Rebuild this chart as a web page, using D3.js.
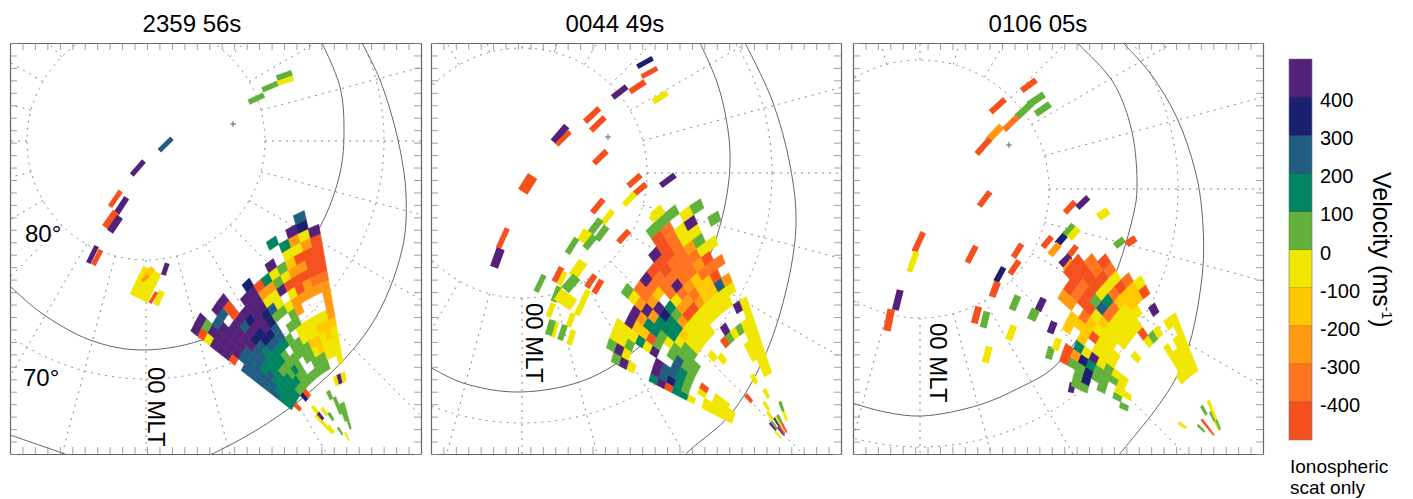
<!DOCTYPE html>
<html><head><meta charset="utf-8">
<script src="https://cdn.jsdelivr.net/npm/d3@7"></script>
<style>html,body{margin:0;background:#fff}svg{display:block}text{font-family:"Liberation Sans",Arial,sans-serif;fill:#000}</style>
</head><body><svg id="c" width="1413" height="499"></svg>
<script>
// velocity bins, top of colour bar to bottom
const binCodes = ["p","n","b","t","g","y","m","a","o","r"];
const binValues = [450,350,250,150,50,-50,-150,-250,-350,-450];
const binColors = ["#542178","#1a1f70","#1f5e80","#008560","#62b13a","#f0e600","#ffc800","#ff9a12","#ff7420","#f4511e"];
const binEdges = [-400,-300,-200,-100,0,100,200,300,400];
const colorTicks = [400,300,200,100,0,-100,-200,-300,-400];
const titles = ["2359 56s","0044 49s","0106 05s"];
const latLabels = ["80°","70°"];
const lats = [80,70];
const mltHours = d3.range(0,24);

// [beam, first gate, velocity-bin per gate]
const fan1 = [
[0,8,"ttbbbbbb.rpppyrp"],[1,7,"r"],[1,8,"tttbbbbbbpppppgp"],[2,8,"ttttbtbbbppppb"],
[3,2,"yyy"],[3,8,"ttttttbbpppp.bp"],[4,2,"y"],[4,4,"p"],[4,5,"y"],[4,7,"n"],[4,8,"gttgtttbnpbprrp"],
[5,7,"r"],[5,8,"gtggttbnnpnp"],[6,4,"y"],[6,8,"ggtggtbnppppp"],[7,1,"g"],[7,3,"g"],[7,8,"gggg.tbbnnpppn"],
[8,8,"g..ggg..gbyar"],[9,0,"y"],[9,8,"g.ggg.g.gyyat"],[10,5,"g"],[10,8,"ggggyyggy.pgyp"],
[11,3,"g"],[11,4,"g"],[11,8,"ggymyy.aayryg"],[11,23,"t"],[12,2,"gg"],[12,8,"ggmmyy..arramyt"],
[13,1,"ggg"],[13,6,"y"],[13,8,".yyymy..aararyap"],[14,6,"p"],[14,8,".yymmy..aorrraynb"],[15,6,"y"],[15,8,"yyyymaaaaorrrrp"]
];
const fan2 = [
[0,6,"yyyy.yttrpt"],[0,19,"ypg"],[1,6,"yyyy"],[1,12,"gtnbp"],[1,20,"ypg"],[2,6,"yyy.y.gtbbp"],[2,20,"gyy"],
[3,7,"yy.r.gtb"],[3,17,"pytyyy"],[4,12,"ggbg"],[4,17,"grmmp"],[5,12,"gggg"],[5,16,"ygttap"],
[6,13,"ggytttapayg"],[7,0,"y"],[7,13,"yymttnpaoo"],[8,1,"p"],[8,5,"r"],[8,11,"y"],[8,13,"yyyagt.mop"],
[9,1,"g"],[9,10,"y"],[9,13,"yyyrayooor"],[10,0,"p"],[10,2,"y"],[10,13,"yyyraoporrp"],
[11,0,"rp"],[11,3,"y"],[11,11,"r"],[11,14,"yyaoaooorrrg"],[12,1,"y"],[12,6,"y"],[12,11,"gp"],[12,14,"yymmmoooooog"],[12,26,"y"],
[13,0,"rg"],[13,4,"y"],[13,11,"y"],[13,14,"yymmoaoayy"],[13,25,"g"],[14,8,"yy.g"],[14,14,"yybrorygypy"],
[15,6,"yyyyyy"],[15,13,"p"],[15,15,"ya"],[15,18,"o"],[15,20,"y"],[15,24,"g"],[16,1,"yg"],[16,6,"yyyyyyy"],[16,13,"y"],[16,22,"g"]
];
const fan3 = [
[1,10,"g"],[1,15,"gg"],[2,11,"g"],[2,13,"g"],[2,15,"ng"],[3,10,"yy.ggnggr"],[4,3,"y"],[4,11,"ygggtnar"],
[5,11,"yygypyt"],[6,13,"yyy.m.m"],[7,13,"yyyrmmm"],[8,1,"g"],[8,14,"yyymo.aa"],[9,11,"y"],[9,13,"yyymyrror"],
[10,13,"yyyobgrorr"],[11,0,"rr"],[11,13,"yyyotyrrrr"],[12,11,"yryyymoyroo"],[13,6,"y"],[13,11,"g"],[13,14,"ymmryor"],
[14,2,"g"],[14,6,"yyyy"],[14,11,"y"],[14,15,"mmo"],[15,6,"yyy"],[15,13,"p"],[15,15,"ry"],[16,0,"yg"],[16,6,"yyyy.y"],[17,0,"gyy"],[17,6,"yyyyyy"]
];
// other radars: [x1,y1,x2,y2,width,bin]
const streaks1 = [
[248.7,102.3,264,95,5.5,"g"],[262.3,90,277.7,83.3,5.5,"g"],[276.7,78.3,292,72.7,6,"g"],[277.7,83.3,293.3,78.3,5,"y"],
[159.3,150.7,172,138.3,5,"b"],[131.7,175,144,161,5,"p"],[110,206.7,120.7,191,5,"r"],[116.7,213,126.7,197.7,6,"p"],
[105.3,227.4,116.3,212,8,"r"],[110,231.7,120,216.7,7,"p"],[88.3,263,96.7,246,5,"p"],[93.3,265,101,250,5,"r"],
[138.7,298.3,152.3,270,20,"y"],[146,276,153,268,6,"m"],[142,281,148,276,4,"a"],[156,305,162,291,6,"y"],[150,303,156.7,292,3.5,"r"],[163.3,275,167.3,263.3,5,"p"]
];
const streaks2 = [
[637.3,66.7,652.7,58.3,5,"n"],[641.7,76.7,657.3,68.3,5,"r"],[630,91.7,645,81.7,6,"r"],[612.7,97.3,626.7,86.7,6,"p"],
[653.3,101.7,667.3,92.7,6,"y"],[585,121.7,599.3,108.3,6,"r"],[591,130.7,604.7,117.3,6,"r"],[553.3,141.7,566.7,126,7,"p"],
[556.7,145,570,131.7,5,"r"],[594,163.3,606.7,151,6,"r"],[522.7,191.7,532.7,176,11,"r"],[628.3,186,640.7,175,6,"r"],
[633.3,195,646,184,6,"r"],[624,205,635,193.3,6,"y"],[660.7,185.7,675,175,6,"p"],[592.3,212.7,603.3,199.3,6,"r"],
[602.3,224,612.7,210.7,6,"y"],[650.7,220,661.7,210.7,6,"y"],[590,233.3,600.7,219.3,7,"g"],[596.7,240,606.7,226.7,7,"g"],
[582.3,242.3,588.7,231.3,12,"y"],[585,248.3,595,236,7,"g"],[567.3,253.3,576.7,238.3,6,"g"],[618.3,242.3,629,230.7,6,"r"],
[498.3,248.3,507.3,228.3,5.5,"r"],[494,267.3,500.7,248.7,8.5,"p"],[536,291.7,544,275,5.5,"g"],[554.3,281.7,561.7,267.3,6,"r"],
[559.3,285,565,271.7,5,"y"],[572.7,276.7,583.3,261.7,10,"y"],[565,290,576.7,276.7,10,"g"],[553.3,301.7,559.3,286.7,6,"g"],
[557.3,294,573.7,305,13,"y"],[548.3,316.7,553.3,303.3,5.5,"y"],[576.7,315,588.3,290,6,"y"],[586.7,287.3,595,275,6,"r"],
[594,293.3,601.7,280,6,"r"],[568.3,326.7,573.3,313.3,5.5,"y"],[552.3,337.3,556.7,321.7,5,"y"],[548.3,335,552.7,320,7,"g"],
[560,340,565,325,6,"g"],[569.3,345,573.3,330,5.5,"y"]
];
const streaks3 = [
[1021.7,90.7,1036,80,6,"r"],[990.7,112.3,1005,99.3,6,"r"],[1016.7,117.3,1031.7,103.3,7,"g"],[1028.3,105,1044,94.3,7,"g"],
[1035.7,114,1050,104,7,"g"],[1004,130,1017.7,116.7,6,"o"],[988.3,140,1001.7,126,7,"a"],[976.7,154,990,139,6,"r"],
[979.3,206,990,191.7,6,"r"],[1065,212.7,1075,201.7,6,"r"],[1077.3,207.7,1088.3,197.3,6,"p"],[914.3,251.7,923.3,232.3,6,"r"],
[909.3,271.7,916.7,251.7,6,"y"],[967.3,262.7,976,246,6,"r"],[1013.3,257.3,1021.7,244,6,"r"],[1010,274,1019,260.7,6,"r"],
[996,281.7,1003.7,267.3,6,"n"],[992,296.7,997.7,281.7,7,"r"],[1042.7,247.3,1051.7,236.7,6,"r"],[1057.3,244,1066.7,233.3,7,"n"],
[1050,255,1059.3,244,7,"a"],[1065,235,1074,225,7,"g"],[1069.3,238.3,1078.3,228.3,7,"y"],[1068.3,256.7,1076.7,246,6,"r"],
[1060.7,265,1070,256,7,"p"],[1065,270.7,1072.7,260,6,"a"],[895.3,310,900.3,290,7,"p"],[887,330.7,891.3,309.3,7.5,"r"],
[974.3,323.3,978.7,306.7,7,"r"],[983,327.7,987,311.7,7,"g"],[1012,310,1018,295.7,7,"g"],[1037.7,310.7,1043.7,298.3,7,"p"],
[1031,320,1036,309.3,9,"g"],[1008.7,340,1013.7,325.7,7,"y"],[985.3,362.7,989.3,346.7,7,"y"],[1048.3,359,1051.7,346.7,7,"g"],
[1050,333.3,1054.3,321.7,7,"p"],[1055,350,1059,338.3,7,"y"],[1070.7,392.7,1072.7,382.7,6,"p"],[1115,246,1124,239.3,7,"g"],
[1126.7,244,1135.7,238.3,7,"r"],[1098.3,217.3,1108.3,210.7,8,"y"]
];
// solid boundary curves
const curves1 = [
[[322,43],[340,87],[344,130],[340,173],[320,227],[270,298],[210,337],[143,350],[90,340],[40,312],[10,286]],
[[362,43],[380,80],[398,140],[406,195],[402,250],[370,327],[300,400],[210,455],[136,480],[62,453],[10,435]]
];
const curves2 = [
[[700,43],[718,85],[728,130],[730,165],[725,205],[712,250],[690,293],[657,332],[590,378],[520,392],[463,383],[430,367]],
[[745,43],[772,100],[790,165],[796,225],[785,295],[763,360],[730,415],[690,450],[670,470]]
];
const curves3 = [
[[1077,43],[1113,82],[1132,132],[1137,188],[1134,212],[1113,280],[1087,325],[1053,368],[1019,388],[979,405],[922,416],[885,412],[852,403]],
[[1123,43],[1150,73],[1177,118],[1195,170],[1202,212],[1202,277],[1180,370],[1123,450],[1105,470]]
];
const panels = [
 {x:[10,421], y:[43,454], title:192, c:[146,141], r80:119, pole:[233,124], apex:[361,464], start:218, k:1, fan:fan1, streaks:streaks1, curves:curves1, mlt:[157,367], lat:true},
 {x:[431,841],y:[43,454], title:615, c:[522,173], r80:125, pole:[608,137], apex:[800,458], start:207, k:1.06, fan:fan2, streaks:streaks2, curves:curves2, mlt:[535,303]},
 {x:[853,1263],y:[43,454],title:1038,c:[920,189], r80:129, pole:[1009,145],apex:[1232,458],start:201.5,k:1.09, fan:fan3, streaks:streaks3, curves:curves3, mlt:[939,323]}
];

const svg = d3.select("#c");
const color = d3.scaleThreshold().domain(binEdges).range(binColors.slice().reverse());
const valueOf = c => binValues[binCodes.indexOf(c)];
const toRad = d3.scaleLinear().domain([0,180]).range([0,Math.PI]);
const gateLine = d3.line();
const curveLine = d3.line().curve(d3.curveCatmullRom.alpha(0.5));

panels.forEach((p,i)=>{
  const g = svg.append("g");
  const sx = d3.scaleLinear().domain(p.x).range(p.x);
  const sy = d3.scaleLinear().domain(p.y).range(p.y);
  const clip = "clip"+i;
  svg.append("clipPath").attr("id",clip).append("rect")
    .attr("x",p.x[0]).attr("y",p.y[0]).attr("width",p.x[1]-p.x[0]).attr("height",p.y[1]-p.y[0]);
  const inner = g.append("g").attr("clip-path",`url(#${clip})`);
  // latitude grid
  const rLat = d3.scaleLinear().domain([90,80]).range([0,p.r80]);
  inner.selectAll("circle.lat").data(lats).join("circle").attr("class","lat")
    .attr("cx",sx(p.c[0])).attr("cy",sy(p.c[1])).attr("r",d=>rLat(d))
    .attr("fill","none").attr("stroke","#888").attr("stroke-dasharray","2 5");
  inner.selectAll("line.mlt").data(mltHours).join("line").attr("class","mlt")
    .attr("x1",h=>sx(p.c[0])+rLat(80)*Math.cos(toRad(h*15)))
    .attr("y1",h=>sy(p.c[1])+rLat(80)*Math.sin(toRad(h*15)))
    .attr("x2",h=>sx(p.c[0])+rLat(40)*Math.cos(toRad(h*15)))
    .attr("y2",h=>sy(p.c[1])+rLat(40)*Math.sin(toRad(h*15)))
    .attr("stroke","#888").attr("stroke-dasharray","2 5");
  inner.selectAll("path.curve").data(p.curves).join("path").attr("class","curve")
    .attr("d",d=>curveLine(d.map(q=>[sx(q[0]),sy(q[1])])))
    .attr("fill","none").attr("stroke","#666").attr("stroke-width",1);
  // streak echoes
  inner.selectAll("line.st").data(p.streaks).join("line").attr("class","st")
    .attr("x1",d=>sx(d[0])).attr("y1",d=>sy(d[1])).attr("x2",d=>sx(d[2])).attr("y2",d=>sy(d[3]))
    .attr("stroke-width",d=>d[4]).attr("stroke",d=>color(valueOf(d[5])));
  // fan cells
  const az = d3.scaleLinear().domain([0,16]).range([p.start,p.start+42]);
  const stretch = d3.scaleLinear().domain([0,16]).range([1,1.17]);
  const rng = d3.scaleLinear().domain([0,1]).range([24*p.k,32*p.k]);
  const pt = (b,gt)=>{const a=toRad(az(b)), r=rng(gt)*stretch(b);
    return [sx(p.apex[0])+r*Math.cos(a), sy(p.apex[1])+r*Math.sin(a)];};
  const cells = [];
  p.fan.forEach(([b,g0,codes])=>{
    codes.split("").forEach((c,j)=>{ if(c!==".") cells.push({b,g:g0+j,v:valueOf(c)}); });
  });
  inner.selectAll("path.cell").data(cells).join("path").attr("class","cell")
    .attr("d",d=>gateLine([pt(d.b,d.g),pt(d.b+1,d.g),pt(d.b+1,d.g+1),pt(d.b,d.g+1)])+"Z")
    .attr("fill",d=>color(d.v)).attr("stroke",d=>color(d.v)).attr("stroke-width",0.6);
  // pole cross
  const pg = g.append("g").attr("stroke","#444").attr("stroke-width",0.8);
  pg.append("line").attr("x1",sx(p.pole[0])-3).attr("x2",sx(p.pole[0])+3).attr("y1",sy(p.pole[1])).attr("y2",sy(p.pole[1]));
  pg.append("line").attr("y1",sy(p.pole[1])-3).attr("y2",sy(p.pole[1])+3).attr("x1",sx(p.pole[0])).attr("x2",sx(p.pole[0]));
  // frame ticks
  const tx = d3.scaleLinear().domain([0,33]).range(p.x), ty = d3.scaleLinear().domain([0,33]).range(p.y);
  const axes = [
    [d3.axisTop(tx).tickSize(-7),`translate(0,${p.y[0]})`],
    [d3.axisBottom(tx).tickSize(-7),`translate(0,${p.y[1]})`],
    [d3.axisLeft(ty).tickSize(-7),`translate(${p.x[0]},0)`],
    [d3.axisRight(ty).tickSize(-7),`translate(${p.x[1]},0)`]];
  axes.forEach(([a,t])=>{
    const ax = g.append("g").attr("transform",t).call(a.ticks(33).tickSizeOuter(0).tickFormat(""));
    ax.selectAll("line").attr("stroke","#888").attr("stroke-width",0.8);
    ax.select(".domain").attr("stroke","#666").attr("stroke-width",1.2);
  });
  // text
  g.append("text").attr("x",p.title).attr("y",32).attr("text-anchor","middle").attr("font-size",24).text(titles[i]);
  g.append("text").attr("transform",`translate(${p.mlt[0]-9},${p.mlt[1]}) rotate(90)`).attr("font-size",24).text("00 MLT");
  if(p.lat){
    g.append("text").attr("x",25).attr("y",242).attr("font-size",24).text(latLabels[0]);
    g.append("text").attr("x",23).attr("y",386).attr("font-size",24).text(latLabels[1]);
  }
});

// colour bar
const barY = d3.scaleLinear().domain([-500,500]).range([440,59]);
const bar = svg.append("g");
bar.selectAll("rect").data(binValues).join("rect")
  .attr("x",1289).attr("width",23)
  .attr("y",v=>barY(v+50)).attr("height",v=>barY(v-50)-barY(v+50))
  .attr("fill",v=>color(v));
bar.selectAll("line").data(colorTicks).join("line")
  .attr("x1",1289).attr("x2",1312).attr("y1",barY).attr("y2",barY)
  .attr("stroke",v=>d3.color(color(v)).darker(0.9)).attr("stroke-width",0.8);
bar.append("rect").attr("x",1289).attr("y",59).attr("width",23).attr("height",381).attr("fill","none").attr("stroke","#777").attr("stroke-width",0.6);
bar.selectAll("text").data(colorTicks).join("text")
  .attr("x",1320).attr("y",v=>barY(v)+10).attr("font-size",20).text(d=>d);
const vt = svg.append("text").attr("transform","translate(1373,172) rotate(90)").attr("font-size",25);
vt.append("tspan").text("Velocity (ms");
vt.append("tspan").attr("font-size",14).attr("dy",-9).text("-1");
vt.append("tspan").attr("dy",9).text(")");
svg.append("text").attr("x",1290).attr("y",473).attr("font-size",19).text("Ionospheric");
svg.append("text").attr("x",1290).attr("y",494).attr("font-size",19).text("scat only");
</script></body></html>
